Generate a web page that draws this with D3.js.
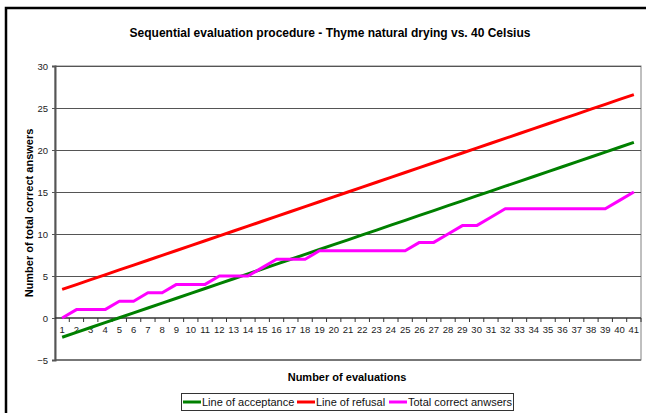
<!DOCTYPE html>
<html>
<head>
<meta charset="utf-8">
<script src="https://cdn.jsdelivr.net/npm/d3@7"></script>
<style>
  body { margin: 0; background: #fff; }
  text { font-family: Arial, "Liberation Sans", sans-serif; }
</style>
</head>
<body>
<div id="chart"></div>
<script>
// evaluation numbers 1..41
const evaluations = [1,2,3,4,5,6,7,8,9,10,11,12,13,14,15,16,17,18,19,20,21,22,23,24,25,26,27,28,29,30,31,32,33,34,35,36,37,38,39,40,41];

const acceptance = [-2.29,-1.71,-1.13,-0.55,0.03,0.61,1.19,1.77,2.35,2.93,3.51,4.09,4.67,5.25,5.83,6.41,6.99,7.57,8.15,8.73,
  9.31,9.89,10.47,11.05,11.63,12.21,12.79,13.37,13.95,14.53,15.11,15.69,16.27,16.85,17.43,18.01,18.59,19.17,19.75,20.33,20.91];

const refusal = [3.40,3.98,4.56,5.14,5.72,6.30,6.88,7.46,8.04,8.62,9.20,9.78,10.36,10.94,11.52,12.10,12.68,13.26,13.84,14.42,
  15.00,15.58,16.16,16.74,17.32,17.90,18.48,19.06,19.64,20.22,20.80,21.38,21.96,22.54,23.12,23.70,24.28,24.86,25.44,26.02,26.60];

const correct = [0,1,1,1,2,2,3,3,4,4,4,5,5,5,6,7,7,7,8,8,8,8,8,8,8,9,9,10,11,11,12,13,13,13,13,13,13,13,13,14,15];

const yTicks = [-5,0,5,10,15,20,25,30];

const seriesNames = ['Line of acceptance', 'Line of refusal', 'Total correct anwsers'];
const seriesColors = ['#008000', '#ff0000', '#ff00ff'];

const W = 646, H = 413;
const plot = {left: 55, right: 641, top: 66, bottom: 360};

const svg = d3.select('#chart').append('svg')
    .attr('width', W)
    .attr('height', H);

// outer chart frame (runs off the right and bottom edge)
svg.append('rect')
    .attr('x', 6).attr('y', 8)
    .attr('width', 700).attr('height', 500)
    .attr('fill', '#fff')
    .attr('stroke', '#000')
    .attr('stroke-width', 2.5);

svg.append('text')
    .attr('x', 330).attr('y', 37)
    .attr('text-anchor', 'middle')
    .style('font-size', '12px')
    .style('font-weight', 'bold')
    .text('Sequential evaluation procedure - Thyme natural drying vs. 40 Celsius');

const x = d3.scaleBand()
    .domain(evaluations)
    .range([plot.left, plot.right]);

const y = d3.scaleLinear()
    .domain([-5, 30])
    .range([plot.bottom, plot.top]);

const cx = d => x(d) + x.bandwidth() / 2;

// plot area border
svg.append('rect')
    .attr('x', plot.left).attr('y', plot.top)
    .attr('width', plot.right - plot.left)
    .attr('height', plot.bottom - plot.top)
    .attr('fill', 'none')
    .attr('stroke', '#808080')
    .attr('stroke-width', 1);

// gridlines
svg.append('g')
    .selectAll('line')
    .data(yTicks.filter(t => t !== 0 && t !== -5))
    .enter()
    .append('line')
    .attr('x1', plot.left).attr('x2', plot.right)
    .attr('y1', d => Math.round(y(d)) + 0.5)
    .attr('y2', d => Math.round(y(d)) + 0.5)
    .attr('stroke', '#555')
    .attr('stroke-width', 1);

svg.append('line')
    .attr('x1', plot.left).attr('x2', plot.right)
    .attr('y1', y(-5)).attr('y2', y(-5))
    .attr('stroke', '#777')
    .attr('stroke-width', 2);

// y axis
const yAxis = svg.append('g')
    .attr('transform', `translate(${plot.left},0)`)
    .call(d3.axisLeft(y).tickValues(yTicks).tickSize(3).tickPadding(4));
yAxis.select('.domain').attr('stroke', '#555').attr('stroke-width', 2);
yAxis.selectAll('.tick line').attr('stroke', '#555');
yAxis.selectAll('text').style('font-size', '9.5px').attr('fill', '#222');

// x axis at zero, ticks between categories
const xg = svg.append('g').attr('transform', `translate(0,${y(0)})`);
xg.append('line')
    .attr('x1', plot.left).attr('x2', plot.right)
    .attr('stroke', '#333').attr('stroke-width', 1.5);
xg.selectAll('.tk')
    .data(evaluations)
    .enter()
    .append('line')
    .attr('x1', d => x(d) + x.bandwidth())
    .attr('x2', d => x(d) + x.bandwidth())
    .attr('y1', 0).attr('y2', 4)
    .attr('stroke', '#333');
xg.selectAll('text')
    .data(evaluations)
    .enter()
    .append('text')
    .attr('x', d => cx(d))
    .attr('y', 15)
    .attr('text-anchor', 'middle')
    .style('font-size', '9.5px')
    .attr('fill', '#222')
    .text(d => d);

// lines
const line = d3.line()
    .x((d, i) => cx(evaluations[i]))
    .y(d => y(d));

[acceptance, refusal, correct].forEach((s, i) => {
    svg.append('path')
        .datum(s)
        .attr('d', line)
        .attr('fill', 'none')
        .attr('stroke', seriesColors[i])
        .attr('stroke-width', 3)
        .attr('stroke-linejoin', 'round');
});

// axis titles
svg.append('text')
    .attr('transform', `translate(33,${(plot.top + plot.bottom) / 2}) rotate(-90)`)
    .attr('text-anchor', 'middle')
    .style('font-size', '11px')
    .style('font-weight', 'bold')
    .text('Number of total correct answers');

svg.append('text')
    .attr('x', 347).attr('y', 381)
    .attr('text-anchor', 'middle')
    .style('font-size', '11px')
    .style('font-weight', 'bold')
    .text('Number of evaluations');

// legend
const legend = svg.append('g');
legend.append('rect')
    .attr('x', 181.5).attr('y', 393.5)
    .attr('width', 332).attr('height', 17)
    .attr('fill', '#fff')
    .attr('stroke', '#333');
const legX = [183, 297, 389];
seriesNames.forEach((name, i) => {
    legend.append('line')
        .attr('x1', legX[i]).attr('x2', legX[i] + 18)
        .attr('y1', 402).attr('y2', 402)
        .attr('stroke', seriesColors[i])
        .attr('stroke-width', 3);
    legend.append('text')
        .attr('x', legX[i] + 19).attr('y', 406)
        .style('font-size', '11px')
        .attr('fill', '#111')
        .text(name);
});
</script>
</body>
</html>
